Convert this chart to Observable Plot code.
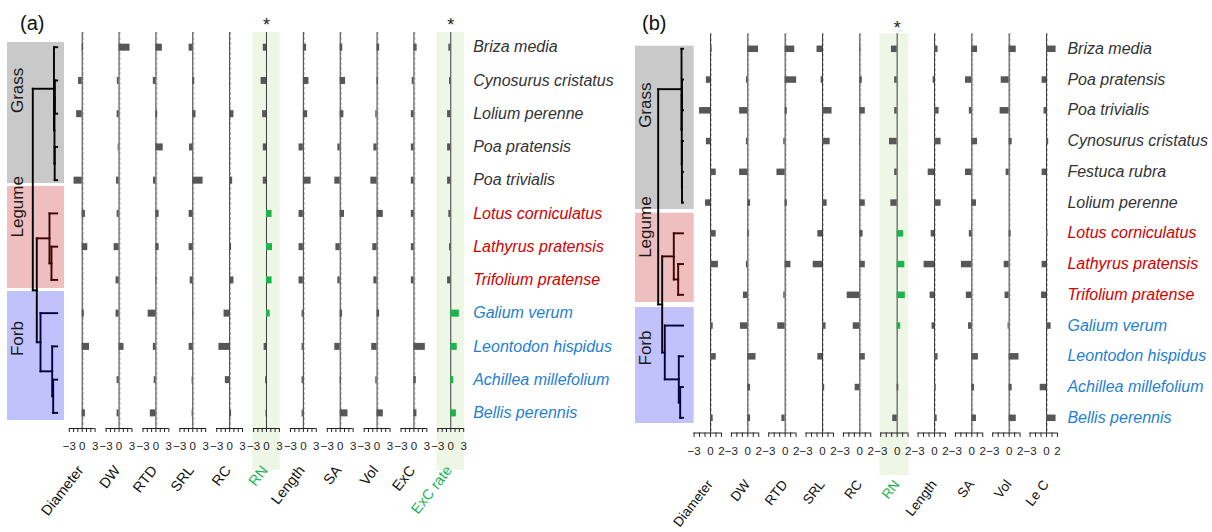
<!DOCTYPE html>
<html><head><meta charset="utf-8">
<script src="https://cdn.jsdelivr.net/npm/d3@7"></script>
<script src="https://cdn.jsdelivr.net/npm/@observablehq/plot@0.6"></script>
<style>
body{margin:0;background:#fff;}
#fig{position:relative;width:1212px;height:532px;overflow:hidden;background:#fff;font-family:"Liberation Sans",Arial,sans-serif;}
#fig svg{position:absolute;top:0;}
.plab{position:absolute;font-size:20px;color:#111;line-height:1;}
</style></head><body>
<div id="fig"><div class="plab" style="left:20px;top:13px">(a)</div><div class="plab" style="left:642px;top:13px">(b)</div></div>
<script>
// ---------------- Panel (a) data ----------------
const traitsA = ["Diameter","DW","RTD","SRL","RC","RN","Length","SA","Vol","ExC","ExC rate"];
const speciesA = ["Briza media","Cynosurus cristatus","Lolium perenne","Poa pratensis","Poa trivialis","Lotus corniculatus","Lathyrus pratensis","Trifolium pratense","Galium verum","Leontodon hispidus","Achillea millefolium","Bellis perennis"];
const groupOfA = ["Grass","Grass","Grass","Grass","Grass","Legume","Legume","Legume","Forb","Forb","Forb","Forb"];
const a_Diameter = [0.3,-0.85,-1.3,0,-1.9,0.75,1.3,0,0.5,1.7,0,0.75];
const a_DW       = [2.55,-0.4,-0.45,-0.2,-0.6,-0.45,-1.15,-0.7,-0.7,1.15,-0.45,-0.45];
const a_RTD      = [1.5,-0.6,0.4,1.7,-0.55,0.75,0.75,0.2,-1.8,-0.6,-0.4,-1.3];
const a_SRL      = [-0.85,0.45,0.75,-0.75,2.4,-0.85,-0.85,-0.6,0.2,-0.85,-0.15,-0.15];
const a_RC       = [0.1,0.2,1.0,0,0.7,0,0.45,1.0,-1.3,-2.5,-1.0,0.45];
const a_RN       = [-0.75,-1.25,-0.9,-0.75,-0.75,1.3,1.4,1.3,0.85,-0.55,-0.2,-0.1];
const a_Length   = [0.75,1.3,1.0,-1.0,1.8,-1.0,-1.0,-1.0,-0.3,-0.3,-0.3,-0.3];
const a_SA       = [0.6,1.25,0.85,-0.55,-1.25,1.0,-1.0,-0.55,0.55,-1.25,0.3,1.8];
const a_Vol      = [0.6,0.3,-0.3,-0.75,-1.45,1.45,-1.0,-0.75,0.6,-1.25,-0.3,1.45];
const a_ExC      = [0.75,-0.4,-0.6,-0.6,-0.6,-0.6,-0.6,-0.6,0,2.65,0.55,0.7];
const a_ExCrate  = [-0.45,-0.3,-0.75,-0.75,-0.75,-0.45,-0.3,-0.75,2.0,1.5,0.7,1.3];
const shadedA = ["RN","ExC rate"];
const greenA_RN = ["Lotus corniculatus","Lathyrus pratensis","Trifolium pratense","Galium verum"];
const greenA_ExCrate = ["Galium verum","Leontodon hispidus","Achillea millefolium","Bellis perennis"];
const xDomainA = [-3, 3];
const tickLabelsA = [-3, 0, 3];
// dendrogram (a): [child, child, height]; numbers refer to earlier merges
const treeA = [
  ["Cynosurus cristatus","Lolium perenne",0.094],
  ["Poa pratensis","Poa trivialis",0.102],
  [0,1,0.111],
  ["Briza media",2,0.131],
  ["Lathyrus pratensis","Trifolium pratense",0.234],
  ["Lotus corniculatus",4,0.316],
  ["Achillea millefolium","Bellis perennis",0.164],
  ["Leontodon hispidus",6,0.205],
  ["Galium verum",7,0.684],
  [5,8,0.836],
  [3,9,1.0]
];

// ---------------- Panel (b) data ----------------
const traitsB = ["Diameter","DW","RTD","SRL","RC","RN","Length","SA","Vol","Le C"];
const speciesB = ["Briza media","Poa pratensis","Poa trivialis","Cynosurus cristatus","Festuca rubra","Lolium perenne","Lotus corniculatus","Lathyrus pratensis","Trifolium pratense","Galium verum","Leontodon hispidus","Achillea millefolium","Bellis perennis"];
const groupOfB = ["Grass","Grass","Grass","Grass","Grass","Grass","Legume","Legume","Legume","Forb","Forb","Forb","Forb"];
const b_Diameter = [0.3,-0.75,-2.0,-0.75,1.05,-0.9,1.05,1.45,0,0.5,1.05,0,0.5];
const b_DW       = [1.95,-0.25,-1.5,-0.25,-1.5,0.5,0.25,-0.25,-0.8,-1.35,1.5,0.5,0.5];
const b_RTD      = [1.75,2.1,0.4,-0.25,-1.5,0.4,0,1.05,-0.25,-1.35,0,0,-0.6];
const b_SRL      = [-1.0,-0.25,1.75,1.4,0,0.85,-0.85,-1.7,0,0.65,-0.85,0.4,0];
const b_RC       = [0.15,0.45,1.0,0.1,0,1.0,0.6,1.0,-2.3,-1.2,1.0,-0.85,0];
const b_RN       = [-1.05,-0.45,-0.45,-1.4,-0.45,-1.15,1.2,1.4,1.5,0.65,0,0.3,-0.8];
const b_Length   = [0.65,-0.25,0.85,1.2,-1.15,1.2,-0.6,-1.9,-0.8,-0.45,0.65,0.3,0.5];
const b_SA       = [1.05,-1.15,-0.45,1.05,-1.15,0.85,-0.45,-1.9,-1.0,-0.6,1.2,0.5,0.85];
const b_Vol      = [1.3,-1.45,-1.65,0.55,-0.55,0,0.35,-0.9,-0.75,-0.2,1.8,0.55,1.3];
const b_LeC      = [1.75,-0.8,-0.45,0.4,-0.8,0,0.25,-0.8,-0.9,0.85,0,-1.15,1.75];
const shadedB = ["RN"];
const greenB_RN = ["Lotus corniculatus","Lathyrus pratensis","Trifolium pratense","Galium verum"];
const xDomainB = [-3, 2];
const tickLabelsB = [-3, 0, 2];
const treeB = [
  ["Poa pratensis","Poa trivialis",0.04],
  ["Festuca rubra","Lolium perenne",0.04],
  ["Cynosurus cristatus",1,0.045],
  [0,2,0.05],
  ["Briza media",3,0.06],
  ["Lathyrus pratensis","Trifolium pratense",0.194],
  ["Lotus corniculatus",5,0.371],
  ["Achillea millefolium","Bellis perennis",0.113],
  ["Leontodon hispidus",7,0.169],
  ["Galium verum",8,0.734],
  [6,9,0.839],
  [4,10,1.0]
];

// ---------------- styles ----------------
const groupsOrder = ["Grass","Legume","Forb"];
const boxFill = {Grass:"#c9c9c9", Legume:"#efbebe", Forb:"#c1c1fb"};
const textFill = {Grass:"#333333", Legume:"#d20000", Forb:"#1f7fd2"};
const lineFill = {Grass:"#000000", Legume:"#3d0000", Forb:"#00003d", mixed:"#000000"};
const GREEN = "#1db44f";
const FONT = "'Liberation Sans', Arial, sans-serif";
const baseStyle = {fontFamily: FONT, background: "transparent", overflow: "visible", color: "#222"};

const fig = document.getElementById("fig");

function minusFmt(d){ return d < 0 ? "\u2212" + Math.abs(d) : String(d); }

function traitPlot(cfg) {
  const {traits, species, groupOf, values, green, shaded, xDomain, tickLabels, L} = cfg;
  const table = traits.flatMap(t => species.map((s, i) => ({
    trait: t, species: s, row: i, v: values[t][i], green: (green[t] || []).includes(s)
  })));
  const rows = species.map((s, i) => ({name: s, row: i, group: groupOf[i]}));
  const last = traits[traits.length - 1];
  const ticks = d3.range(xDomain[0], xDomain[1] + 1);
  const marks = [
    Plot.rect(shaded, {fx: d => d, x1: () => xDomain[0] - L.shadePad, x2: () => xDomain[1] + L.shadePad,
      y1: () => L.yTop, y2: () => L.yShade, fill: "#eef7e5"}),
    Plot.ruleX(traits.filter(t => !shaded.includes(t)), {fx: d => d, x: () => 0, dx: 1, stroke: "#c2c2c2", strokeDasharray: "3 2"}),
    Plot.ruleX([0], {stroke: "#3c3c3c", strokeWidth: 1}),
    Plot.ruleY([L.yBottom], {x1: () => xDomain[0], x2: () => xDomain[1], stroke: "#222", strokeWidth: 1}),
    Plot.axisX({ticks, tickSize: L.tickSize, tickPadding: L.tickPad, fontSize: L.tickFont, stroke: "#222", fill: "#222",
      tickFormat: d => tickLabels.includes(d) ? minusFmt(d) : ""}),
    Plot.ruleY(table.filter(d => !d.green), {fx: "trait", y: "row", x1: () => 0, x2: "v", stroke: "#575757", strokeWidth: L.barH}),
    Plot.ruleY(table.filter(d => d.green), {fx: "trait", y: "row", x1: () => 0, x2: "v", stroke: GREEN, strokeWidth: L.barH}),
    Plot.text(traits.filter(t => !shaded.includes(t)), {fx: d => d, x: () => 0, frameAnchor: "bottom", text: d => d,
      rotate: -52, textAnchor: "end", dx: L.traitDx, dy: L.traitDy, fontSize: L.traitFont, fill: "#111"}),
    Plot.text(shaded, {fx: d => d, x: () => 0, frameAnchor: "bottom", text: d => d,
      rotate: -52, textAnchor: "end", dx: L.traitDx, dy: L.traitDy, fontSize: L.traitFont, fill: GREEN}),
    Plot.text(shaded, {fx: d => d, x: () => 0, frameAnchor: "top", text: () => "*", dy: L.astDy, fontSize: 18, fill: "#222"}),
    ...groupsOrder.map(g => Plot.text(rows.filter(r => r.group === g), {fx: () => last, x: () => xDomain[1], y: "row",
      text: "name", textAnchor: "start", dx: L.labDx, fontSize: 16, fontStyle: "italic", fill: textFill[g]}))
  ];
  const svg = Plot.plot({
    width: L.width, height: 532,
    marginLeft: L.ml, marginRight: L.mr, marginTop: L.top, marginBottom: 532 - L.bottom,
    fx: {domain: traits, padding: L.pad, paddingInner: L.pad, paddingOuter: L.pad, align: 0.5, round: false, axis: null, label: null},
    x: {domain: xDomain, label: null},
    y: {domain: [L.yTop, L.yBottom], reverse: true, axis: null},
    style: baseStyle,
    marks
  });
  svg.style.left = L.left + "px";
  fig.appendChild(svg);
}

function dendroSegments(merges, species, groupOf) {
  const nodes = [], segs = [];
  const get = r => {
    if (typeof r === "number") return nodes[r];
    const i = species.indexOf(r);
    return {y: i, h: 0, group: groupOf[i]};
  };
  for (const [a, b, h] of merges) {
    const A = get(a), B = get(b);
    const group = A.group === B.group ? A.group : "mixed";
    segs.push({x1: h, x2: h, y1: A.y, y2: B.y, group});
    segs.push({x1: h, x2: A.h, y1: A.y, y2: A.y, group: A.group});
    segs.push({x1: h, x2: B.h, y1: B.y, y2: B.y, group: B.group});
    nodes.push({y: (A.y + B.y) / 2, h, group});
  }
  return segs;
}

function treePlot(cfg) {
  const {merges, species, groupOf, boxes, T, L} = cfg;
  const segs = dendroSegments(merges, species, groupOf);
  const marks = [
    ...boxes.map(b => Plot.rect([b], {x1: () => T.hMax, x2: () => T.hMin, y1: "y1", y2: "y2", fill: boxFill[b.group]})),
    Plot.text(boxes, {frameAnchor: "left", y: d => (d.y1 + d.y2) / 2, text: "group", rotate: -90, dx: 10.5, fontSize: 17, fill: "#1a1a1a"}),
    ...["mixed","Grass","Legume","Forb"].map(g => Plot.link(segs.filter(s => s.group === g),
      {x1: "x1", y1: "y1", x2: "x2", y2: "y2", stroke: lineFill[g], strokeWidth: 1.9, strokeLinecap: "square"}))
  ];
  const svg = Plot.plot({
    width: T.width, height: 532,
    marginLeft: T.ml, marginRight: T.mr, marginTop: L.top, marginBottom: 532 - L.bottom,
    x: {domain: [T.hMax, T.hMin], axis: null},
    y: {domain: [L.yTop, L.yBottom], reverse: true, axis: null},
    style: baseStyle,
    marks
  });
  svg.style.left = T.left + "px";
  fig.appendChild(svg);
}

// ---------------- layout ----------------
const LA = {left: 0, width: 640, ml: 57.74, mr: 165.75, pad: 0.3, top: 32, bottom: 428,
  yTop: -0.442, yBottom: 11.47, yShade: 12.73, shadePad: 0.2, barH: 7, labDx: 9.5,
  traitDx: 2, traitDy: 42, traitFont: 14.5, astDy: -14.6, tickFont: 11.5, tickPad: 9, tickSize: 4};
const LB = {left: 600, width: 612, ml: 83.6, mr: 145.1, pad: 0.267, top: 33.3, bottom: 432.5,
  yTop: -0.488, yBottom: 12.494, yShade: 13.876, shadePad: 0.15, barH: 6.5, labDx: 10,
  traitDx: 3, traitDy: 51.5, traitFont: 13.5, astDy: -12.6, tickFont: 11.5, tickPad: 9.4, tickSize: 4.4};

const boxesA = [{group:"Grass", y1:-0.14, y2:4.1},{group:"Legume", y1:4.19, y2:7.26},{group:"Forb", y1:7.35, y2:11.23}];
const boxesB = [{group:"Grass", y1:-0.085, y2:5.226},{group:"Legume", y1:5.346, y2:8.25},{group:"Forb", y1:8.413, y2:12.185}];

treePlot({merges: treeA, species: speciesA, groupOf: groupOfA, boxes: boxesA,
  T: {left: 0, width: 70, ml: 7, mr: 6, hMax: 2.037, hMin: -0.3}, L: LA});
treePlot({merges: treeB, species: speciesB, groupOf: groupOfB, boxes: boxesB,
  T: {left: 600, width: 100, ml: 35, mr: 6.3, hMax: 1.915, hMin: -0.452}, L: LB});

traitPlot({traits: traitsA, species: speciesA, groupOf: groupOfA,
  values: {"Diameter": a_Diameter, "DW": a_DW, "RTD": a_RTD, "SRL": a_SRL, "RC": a_RC, "RN": a_RN,
    "Length": a_Length, "SA": a_SA, "Vol": a_Vol, "ExC": a_ExC, "ExC rate": a_ExCrate},
  green: {"RN": greenA_RN, "ExC rate": greenA_ExCrate}, shaded: shadedA,
  xDomain: xDomainA, tickLabels: tickLabelsA, L: LA});
traitPlot({traits: traitsB, species: speciesB, groupOf: groupOfB,
  values: {"Diameter": b_Diameter, "DW": b_DW, "RTD": b_RTD, "SRL": b_SRL, "RC": b_RC, "RN": b_RN,
    "Length": b_Length, "SA": b_SA, "Vol": b_Vol, "Le C": b_LeC},
  green: {"RN": greenB_RN}, shaded: shadedB,
  xDomain: xDomainB, tickLabels: tickLabelsB, L: LB});
</script>
</body></html>
